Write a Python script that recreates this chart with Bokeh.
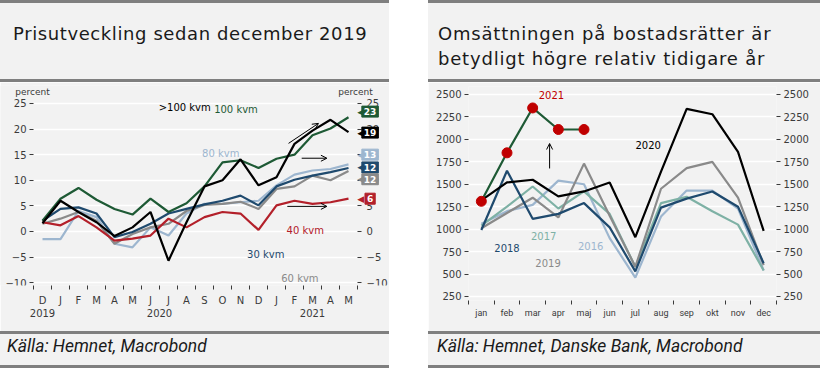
from bokeh.plotting import figure
from bokeh.models import (Range1d, LinearAxis, FixedTicker, Label, Arrow, OpenHead,
                          Div, Spacer, Grid, BoxAnnotation)
from bokeh.layouts import row, column
from bokeh.embed import file_html
from bokeh.resources import INLINE

# ---------------- data: left chart (price change since Dec 2019, percent) ----------------
months_left = ["D", "J", "F", "M", "A", "M", "J", "J", "A", "S", "O", "N", "D", "J", "F", "M", "A", "M"]
years_left = ["2019", "2020", "2021"]
year_pos_left = [0, 6.5, 15]
kvm_100 = [2.1, 6.4, 8.5, 6.2, 4.4, 3.3, 6.4, 3.8, 5.5, 8.8, 13.5, 13.9, 12.4, 14.2, 15.0, 18.8, 20.1, 22.3]
kvm_gt100 = [1.6, 6.0, 3.8, 1.8, -0.9, 0.8, 3.8, -5.7, 1.8, 8.8, 10.0, 14.1, 9.0, 10.6, 17.1, 19.7, 21.8, 19.4]
kvm_80 = [-1.5, -1.5, 4.0, 2.8, -2.4, -3.1, 0.8, -0.8, 3.5, 5.4, 5.4, 5.7, 6.0, 9.0, 11.1, 11.9, 12.2, 13.1]
kvm_60 = [1.5, 2.5, 3.8, 2.1, -2.4, -0.5, 0.8, 1.5, 4.0, 5.2, 5.4, 5.8, 4.4, 8.3, 8.8, 10.9, 10.0, 11.8]
kvm_40 = [1.8, 1.2, 3.0, 0.8, -1.8, -1.4, -0.8, 2.5, 0.8, 2.8, 3.8, 3.5, 0.3, 5.1, 6.0, 5.4, 5.7, 6.4]
kvm_30 = [2.1, 4.4, 4.7, 3.5, -1.1, -0.1, 1.5, 3.5, 4.4, 5.3, 6.0, 7.0, 5.1, 8.8, 10.1, 10.9, 11.6, 12.4]
flag_texts = ["23", "19", "13", "12", "12", "6"]
flag_levels = [23.4, 19.3, 15.0, 12.5, 10.2, 6.4]

# ---------------- data: right chart (transactions per month) ----------------
months_right = ["jan", "feb", "mar", "apr", "maj", "jun", "jul", "aug", "sep", "okt", "nov", "dec"]
y2021 = [1310, 1850, 2350, 2110, 2110]
y2020 = [1320, 1520, 1550, 1365, 1420, 1520, 910, 1640, 2340, 2280, 1860, 980]
y2019 = [1010, 1180, 1350, 1130, 1730, 1150, 580, 1450, 1680, 1750, 1350, 600]
y2018 = [990, 1650, 1115, 1170, 1290, 1020, 530, 1240, 1340, 1420, 1250, 620]
y2017 = [1040, 1250, 1475, 1230, 1420, 1170, 580, 1290, 1360, 1200, 1050, 540]
y2016 = [1060, 1200, 1270, 1540, 1500, 900, 460, 1140, 1430, 1430, 1230, 540]

# ---------------- style ----------------
BG = "#f2f2f2"
RULE = "#7f7f7f"
TXT = "#3a3a3a"
FONT = "DejaVu Sans"
NARROW = "Roboto"
GREEN = "#1e5a35"
BLACK = "#000000"
LBLUE = "#9db6cf"
NAVY = "#1f4a6e"
GREY = "#8a8a8a"
RED = "#b3202a"
TEAL = "#7eb1a5"
DOTRED = "#c00000"


def style_axis(ax, size="10px", font=FONT):
    ax.axis_line_color = None
    ax.major_tick_in = 0
    ax.major_tick_out = 4
    ax.major_tick_line_color = TXT
    ax.minor_tick_line_color = None
    ax.major_label_text_font = font
    ax.major_label_text_font_size = size
    ax.major_label_text_color = TXT
    ax.major_label_standoff = 3


def month_axis(ticks, labels, size, font, standoff):
    ax = LinearAxis(ticker=FixedTicker(ticks=ticks, minor_ticks=[t - 0.5 for t in ticks] + [ticks[-1] + 0.5]),
                    major_label_overrides={t: l for t, l in zip(ticks, labels)})
    ax.axis_line_color = None
    ax.major_tick_in = 0
    ax.major_tick_out = 0
    ax.minor_tick_in = 0
    ax.minor_tick_out = 4
    ax.minor_tick_line_color = TXT
    ax.major_label_text_font = font
    ax.major_label_text_font_size = size
    ax.major_label_text_color = TXT
    ax.major_label_standoff = standoff
    return ax


def base_fig(w, h, xr, yr, borders):
    p = figure(width=w, height=h, x_range=xr, y_range=yr, output_backend="svg",
               toolbar_location=None, x_axis_type=None, y_axis_type=None,
               min_border_left=borders[0], min_border_right=borders[1],
               min_border_top=borders[2], min_border_bottom=borders[3], margin=0)
    p.background_fill_color = BG
    p.border_fill_color = BG
    p.outline_line_color = None
    return p


def lab(p, x, y, text, color, size="10px", align="center"):
    p.add_layout(Label(x=x, y=y, text=text, text_color=color, text_font=FONT,
                       text_font_size=size, text_align=align, text_baseline="middle"))


# ================= LEFT FIGURE =================
# frame spans the whole figure width; the two y axes sit at the data edges
xl = list(range(len(months_left)))
yticks_l = [-10, -5, 0, 5, 10, 15, 20, 25]
X0, X1 = -0.5 - 33 / 18.0, 17.5 + 32 / 18.0
Y0, Y1 = -10.55, 28.5
pl = base_fig(389, 249, Range1d(X0, X1), Range1d(Y0, Y1), (0, 0, 3, 46))
pl.add_layout(Grid(dimension=1, ticker=FixedTicker(ticks=yticks_l), grid_line_color="white", grid_line_width=1.5))
# keep the margins (axis label zones) free of grid lines
pl.add_layout(BoxAnnotation(left=X0, right=-0.5, bottom=Y0, top=Y1, fill_color=BG, fill_alpha=1,
                            line_color=None, level="underlay"))
pl.add_layout(BoxAnnotation(left=17.5, right=X1, bottom=Y0, top=Y1, fill_color=BG, fill_alpha=1,
                            line_color=None, level="underlay"))

axl = LinearAxis(ticker=FixedTicker(ticks=yticks_l), fixed_location=-0.5)
style_axis(axl)
pl.add_layout(axl, "left")
axr = LinearAxis(ticker=FixedTicker(ticks=yticks_l), fixed_location=17.5)
style_axis(axr)
axr.major_label_standoff = 5
pl.add_layout(axr, "right")
pl.add_layout(month_axis(xl, months_left, "10px", FONT, 5), "below")
yax = LinearAxis(ticker=FixedTicker(ticks=year_pos_left),
                 major_label_overrides={t: l for t, l in zip(year_pos_left, years_left)})
yax.axis_line_color = None
yax.major_tick_out = 0
yax.major_tick_in = 0
yax.minor_tick_line_color = None
yax.major_label_text_font = FONT
yax.major_label_text_font_size = "10px"
yax.major_label_text_color = TXT
yax.major_label_standoff = 0
pl.add_layout(yax, "below")

series_left = [(kvm_80, LBLUE), (kvm_60, GREY), (kvm_40, RED), (kvm_30, NAVY), (kvm_100, GREEN), (kvm_gt100, BLACK)]
for ys, c in series_left:
    pl.line(xl, ys, line_color=c, line_width=2.2)

lab(pl, -0.56, 27.3, "percent", TXT, "9px")
lab(pl, 17.39, 27.3, "percent", TXT, "9px")
lab(pl, 7.9, 24.2, ">100 kvm", BLACK)
lab(pl, 10.75, 23.8, "100 kvm", GREEN)
lab(pl, 9.9, 15.2, "80 kvm", LBLUE)
lab(pl, 14.6, 0.2, "40 kvm", RED)
lab(pl, 12.4, -4.5, "30 kvm", NAVY)
lab(pl, 14.3, -9.2, "60 kvm", GREY)

for (x0, y0, x1, y1) in [(13.67, 17.2, 15.33, 21.1), (14.4, 14.3, 15.8, 14.3), (13.6, 4.9, 15.8, 4.9)]:
    pl.add_layout(Arrow(end=OpenHead(size=6, line_width=1, line_color=BLACK),
                        x_start=x0, y_start=y0, x_end=x1, y_end=y1,
                        line_width=1, line_color=BLACK))

flag_colors = [GREEN, BLACK, LBLUE, NAVY, GREY, RED]
for t, lv, c in zip(flag_texts, flag_levels, flag_colors):
    pl.add_layout(Label(x=17.68, y=lv, text="\u25c0", text_color=c, text_font=FONT,
                        text_font_size="9px", text_align="center", text_baseline="middle"))
    pl.add_layout(Label(x=18.2, y=lv, text=t, text_color="white", text_font=FONT,
                        text_font_size="9px", text_font_style="bold", text_align="center",
                        text_baseline="middle", background_fill_color=c, border_line_color=c,
                        padding=2))

# ================= RIGHT FIGURE =================
xr = list(range(len(months_right)))
yticks_r = [250, 500, 750, 1000, 1250, 1500, 1750, 2000, 2250, 2500]
pr = base_fig(392, 249, Range1d(-0.5, 11.5), Range1d(205, 2589), (40, 44, 4, 31))
pr.add_layout(Grid(dimension=1, ticker=FixedTicker(ticks=yticks_r), grid_line_color="white", grid_line_width=1.5))
ral = LinearAxis(ticker=FixedTicker(ticks=yticks_r))
style_axis(ral, "10px")
pr.add_layout(ral, "left")
rar = LinearAxis(ticker=FixedTicker(ticks=yticks_r))
style_axis(rar, "10px")
pr.add_layout(rar, "right")
pr.add_layout(month_axis(xr, months_right, "9px", NARROW, 3), "below")

for ys, c in [(y2016, LBLUE), (y2017, TEAL), (y2019, GREY), (y2018, NAVY), (y2020, BLACK)]:
    pr.line(xr[:len(ys)], ys, line_color=c, line_width=2.2)
pr.line(xr[:len(y2021)], y2021, line_color=GREEN, line_width=2.2)
pr.scatter(xr[:len(y2021)], y2021, size=10, fill_color=DOTRED, line_color=DOTRED)

pr.add_layout(Arrow(end=OpenHead(size=6, line_width=1, line_color=BLACK),
                    x_start=2.66, y_start=1676, x_end=2.66, y_end=1954,
                    line_width=1, line_color=BLACK))
lab(pr, 2.73, 2489, "2021", DOTRED)
lab(pr, 6.5, 1932, "2020", BLACK)
lab(pr, 2.43, 929, "2017", TEAL)
lab(pr, 1.0, 785, "2018", NAVY)
lab(pr, 4.26, 807, "2016", LBLUE)
lab(pr, 2.6, 618, "2019", GREY)


# ================= frames (title / source) =================
def top_div(w, title, pad_left, spacing):
    html = ('<div style="box-sizing:border-box;width:%dpx;height:82px;background:%s;'
            'border-top:3px solid %s;border-bottom:3px solid %s;padding:18px 0 0 %dpx;margin:0;'
            'font-family:\'DejaVu Sans\';font-size:18px;letter-spacing:%spx;line-height:25px;'
            'color:#1a1a1a;white-space:nowrap;">%s</div>'
            % (w, BG, RULE, RULE, pad_left, spacing, title))
    return Div(text=html, width=w, height=82, margin=0)


def bot_div(w, src, pad_left):
    html = ('<div style="box-sizing:border-box;width:%dpx;height:37px;background:%s;'
            'border-top:3px solid %s;border-bottom:3px solid %s;padding:0 0 0 %dpx;margin:0;'
            'font-family:Roboto;font-style:italic;font-size:17.5px;line-height:25px;color:#1a1a1a;">%s</div>'
            % (w, BG, RULE, RULE, pad_left, src))
    return Div(text=html, width=w, height=37, margin=0)


left = column(top_div(389, "Prisutveckling sedan december 2019", 13, 0.6), pl,
              bot_div(389, "Källa: Hemnet, Macrobond", 7), spacing=0, margin=0)
right = column(top_div(392, "Omsättningen på bostadsrätter är<br>betydligt högre relativ tidigare år", 10, 0.8), pr,
               bot_div(392, "Källa: Hemnet, Danske Bank, Macrobond", 9), spacing=0, margin=0)
layout = row(left, Spacer(width=39, margin=0), right, spacing=0, margin=0)

open("out.html", "w").write(file_html(layout, INLINE))
